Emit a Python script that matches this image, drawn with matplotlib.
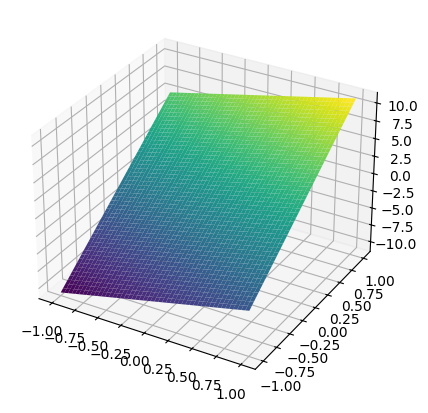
import matplotlib

matplotlib.use("Agg")

import matplotlib.pyplot as plt
import numpy as np

# plane: z at the four corners of the x/y square
x_edge = [-1.0, 1.0]
y_edge = [-1.0, 1.0]
z_corners = [[-11.0, -5.0], [5.0, 11.0]]  # rows: y=-1, y=1
n_cells = 50

# mesh of the surface between the corner values
u = np.linspace(0, 1, n_cells)
X, Y = np.meshgrid(x_edge[0] + u * (x_edge[1] - x_edge[0]), y_edge[0] + u * (y_edge[1] - y_edge[0]))
z = np.array(z_corners)
U, V = np.meshgrid(u, u)
Z = (1 - V) * ((1 - U) * z[0, 0] + U * z[0, 1]) + V * ((1 - U) * z[1, 0] + U * z[1, 1])

fig = plt.figure(figsize=(4.28, 4.13), dpi=100)
ax = fig.add_axes([0.023, 0.047, 0.9, 0.932], projection="3d")
ax.plot_surface(X, Y, Z, cmap="viridis")

fig.savefig("out.png", dpi=100)
